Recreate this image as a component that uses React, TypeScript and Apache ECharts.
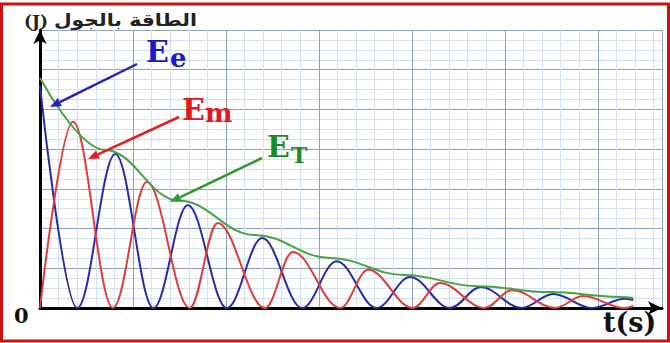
import React, { useEffect, useRef } from "react";
import * as echarts from "echarts";

// time in grid units (1 major square), energy in grid units
const eeData: [number, number][] = [
  [0, 5.59], [0.4, 0], [0.81, 3.88], [1.22, 0], [1.59, 2.59], [2.01, 0],
  [2.39, 1.76], [2.82, 0], [3.19, 1.18], [3.62, 0], [3.98, 0.78], [4.41, 0],
  [4.74, 0.53], [5.18, 0], [5.52, 0.35], [5.94, 0], [6.29, 0.23], [6.38, 0.2],
];
const emData: [number, number][] = [
  [0, 0], [0.355, 4.69], [0.785, 0], [1.15, 3.17], [1.61, 0], [1.91, 2.14],
  [2.42, 0], [2.72, 1.41], [3.23, 0], [3.53, 0.96], [4.01, 0], [4.3, 0.63],
  [4.78, 0], [5.08, 0.45], [5.54, 0], [5.84, 0.3], [6.29, 0], [6.38, 0.05],
];
const etData: [number, number][] = [
  [0, 5.79], [0.7, 3.98], [1.5, 2.7], [2.31, 1.84], [3.12, 1.26], [3.92, 0.83],
  [4.71, 0.55], [5.48, 0.4], [6.24, 0.28], [6.38, 0.25],
];
const xMax = 6.69;
const yMax = 7;

const MAJOR = "#8fa2bd";
const MINOR = "#d3e2f1";

function arrow(x1: number, y1: number, x2: number, y2: number, color: string) {
  const dx = x2 - x1, dy = y2 - y1;
  const L = Math.hypot(dx, dy);
  const ux = dx / L, uy = dy / L;
  const hl = 11, hw = 4.5;
  const bx = x2 - ux * hl, by = y2 - uy * hl;
  return [
    { type: "line", z: 100, shape: { x1, y1, x2: bx, y2: by }, style: { stroke: color, lineWidth: 2.5 } },
    {
      type: "polygon", z: 100,
      shape: { points: [[x2, y2], [bx - uy * hw, by + ux * hw], [bx + uy * hw, by - ux * hw]] },
      style: { fill: color },
    },
  ];
}

function label(
  x: number, y: number, text: string, size: number, color: string,
  family = "DejaVu Serif", align = "left", scaleX = 1
) {
  return {
    type: "text", z: 100, x, y, scaleX,
    style: {
      text, fill: color, font: `bold ${size}px "${family}"`,
      textAlign: align, textVerticalAlign: "middle",
    },
  };
}

export default function App() {
  const ref = useRef<HTMLDivElement>(null);
  useEffect(() => {
    const chart = echarts.init(ref.current!, null, { renderer: "svg" });
    const axisCommon = {
      type: "value",
      min: 0,
      interval: 1,
      axisTick: { show: false },
      axisLabel: { show: false },
      splitLine: { show: true, lineStyle: { color: MAJOR, width: 1 } },
      minorSplitLine: { show: true, lineStyle: { color: MINOR, width: 1 } },
    };
    chart.setOption({
      animation: false,
      backgroundColor: "#fff",
      grid: { left: 40, top: 30, width: 622, height: 278, containLabel: false },
      xAxis: {
        ...axisCommon,
        max: xMax,
        minorTick: { show: false, splitNumber: 5 },
        axisLine: {
          show: true, onZero: false, symbol: ["none", "arrow"], symbolSize: [10, 14],
          lineStyle: { color: "#000", width: 3 },
        },
      },
      yAxis: {
        ...axisCommon,
        max: yMax,
        minorTick: { show: false, splitNumber: 4 },
        axisLine: {
          show: true, onZero: false, symbol: ["none", "arrow"], symbolSize: [10, 14],
          lineStyle: { color: "#000", width: 3 },
        },
      },
      series: [
        {
          name: "Ee", type: "line", data: eeData, symbol: "none", smooth: 0.36, smoothMonotone: "x",
          lineStyle: { color: "#2a2aa8", width: 2 }, z: 3,
        },
        {
          name: "Em", type: "line", data: emData, symbol: "none", smooth: 0.36, smoothMonotone: "x",
          lineStyle: { color: "#e03a3a", width: 2 }, z: 4,
        },
        {
          name: "ET", type: "line", data: etData, symbol: "none", smooth: 0.4, smoothMonotone: "x",
          lineStyle: { color: "#45a345", width: 2 }, z: 5,
        },
      ],
      graphic: [
        {
          type: "rect", z: 100,
          shape: { x: 1.5, y: 4, width: 667, height: 337 },
          style: { fill: "none", stroke: "#d01010", lineWidth: 3 },
        },
        label(24, 21, "(J)", 17, "#222", "DejaVu Serif"),
        label(197, 20, "الطاقة بالجول", 17, "#222", "DejaVu Sans", "right", 1.2),
        ...arrow(137, 64, 50, 107, "#2323b8"),
        ...arrow(179, 117, 88, 159, "#e02020"),
        ...arrow(262, 158, 170, 202, "#2e9a2e"),
        label(146, 51.6, "E", 30, "#1a1ac8"),
        label(170, 58, "e", 26, "#1a1ac8"),
        label(182, 109.6, "E", 30, "#e01a1a"),
        label(205, 113, "m", 26, "#e01a1a"),
        label(267, 146.6, "E", 30, "#1a8a2a"),
        label(291, 155.4, "T", 22, "#1a8a2a"),
        label(14, 315, "0", 21, "#111"),
        label(603, 322, "t(s)", 27, "#111"),
      ],
    });
    return () => chart.dispose();
  }, []);
  return (
    <div
      ref={ref}
      style={{ position: "absolute", left: 0, top: 0, width: 670, height: 343, background: "#fff" }}
    />
  );
}
